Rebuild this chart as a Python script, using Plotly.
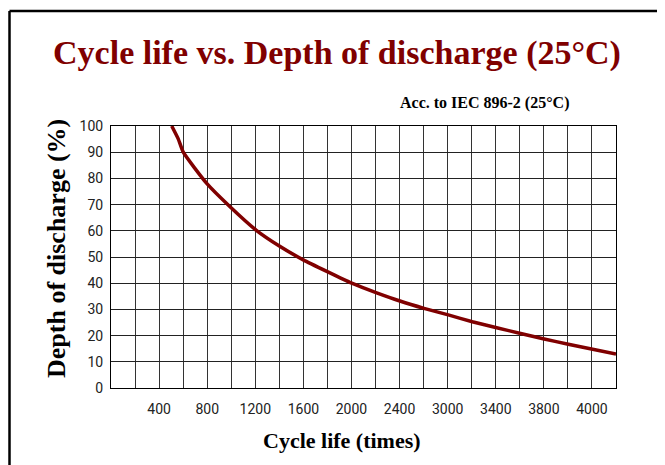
import plotly.graph_objects as go

# Data (x in axis units where each grid cell = 200)
cycle_pos = [505, 560, 601, 796, 990, 1206, 1400, 1599, 1799, 2002, 2204, 2403,
             2603, 2805, 3005, 3208, 3407, 3603, 3803, 4006, 4200]
depth = [100, 95, 90, 78.1, 69.2, 60.3, 54.2, 48.9, 44.4, 40.0, 36.4, 33.2,
         30.4, 27.9, 25.3, 23.0, 20.8, 18.7, 16.7, 14.8, 13.0]

x_tickvals = [400, 800, 1200, 1600, 2000, 2400, 2800, 3200, 3600, 4000]
x_ticktext = ["400", "800", "1200", "1600", "2000", "2400", "3000", "3400", "3800", "4000"]
y_tickvals = [0, 10, 20, 30, 40, 50, 60, 70, 80, 90, 100]

title_text = "Cycle life vs. Depth of discharge (25°C)"
subtitle_text = "Acc. to IEC 896-2 (25°C)"
x_title = "Cycle life (times)"
y_title = "Depth of discharge (%)"

RED = "#800000"
SERIF = "Liberation Serif, Times New Roman, serif"
TICKFONT = "Liberation Sans Narrow, Roboto, Liberation Sans, sans-serif"

fig = go.Figure()
fig.add_trace(go.Scatter(x=cycle_pos, y=depth, mode="lines",
                         line=dict(color=RED, width=3.5, shape="spline", smoothing=0.5),
                         showlegend=False, hoverinfo="skip"))

OFF = 8  # page body margin
W, H = 665, 465
L, T = 111 - OFF, 126 - OFF
pw, ph = 505, 262
R, B = W - L - pw, H - T - ph

def px(x):
    return (x - OFF - L) / pw

def py(y):
    return (T + ph - (y - OFF)) / ph

fig.update_layout(
    width=W, height=H,
    margin=dict(l=L, r=R, t=T, b=B),
    paper_bgcolor="white", plot_bgcolor="white",
    title=dict(text=title_text, x=(337 - OFF) / W, xanchor="center", y=1 - (52 - OFF) / H,
               yanchor="middle",
               font=dict(family=SERIF, size=34, color=RED, weight="bold")),
    xaxis=dict(range=[0, 4200], tickmode="array", tickvals=x_tickvals, ticktext=x_ticktext,
               showgrid=False, zeroline=False, showline=True, linecolor="black", linewidth=1,
               mirror=True, ticks="", ticklabelstandoff=8,
               tickfont=dict(family=TICKFONT, size=14, color="#222"),
               minor=dict(dtick=200, tick0=0, showgrid=True, gridcolor="#333", gridwidth=1)),
    yaxis=dict(range=[0, 100], tickmode="array", tickvals=y_tickvals,
               showgrid=True, gridcolor="#222", gridwidth=1, zeroline=False,
               showline=True, linecolor="black", linewidth=1, mirror=True, ticks="",
               ticklabelstandoff=4,
               tickfont=dict(family=TICKFONT, size=14, color="#222")),
    annotations=[
        dict(text=subtitle_text, xref="paper", yref="paper",
             x=px(484), y=py(103), xanchor="center", yanchor="middle", showarrow=False,
             font=dict(family=SERIF, size=16, color="black", weight="bold")),
        dict(text=x_title, xref="paper", yref="paper",
             x=px(342), y=py(440), xanchor="center", yanchor="middle", showarrow=False,
             font=dict(family=SERIF, size=22, color="black", weight="bold")),
        dict(text=y_title, xref="paper", yref="paper", textangle=-90,
             x=px(56), y=py(249), xanchor="center", yanchor="middle", showarrow=False,
             font=dict(family=SERIF, size=26, color="black", weight="bold")),
    ],
    shapes=[
        dict(type="line", xref="paper", yref="paper", x0=px(9.5), x1=px(680), y0=py(11), y1=py(11),
             line=dict(color="black", width=2.5)),
        dict(type="line", xref="paper", yref="paper", x0=px(9.5), x1=px(9.5), y0=py(11), y1=py(480),
             line=dict(color="black", width=2.5)),
    ],
)

fig.write_html("out.html")
